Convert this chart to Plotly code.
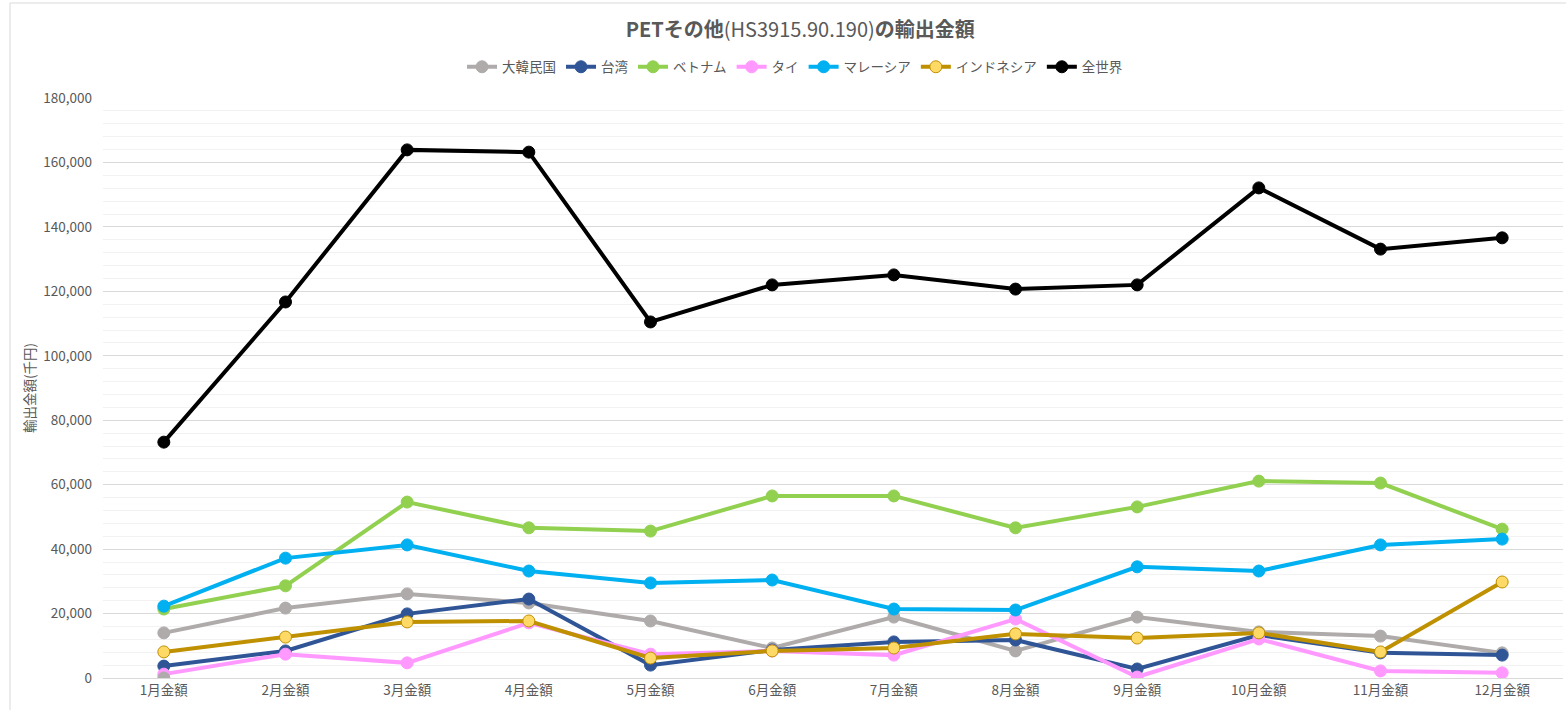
import plotly.graph_objects as go

months = ["1月金額", "2月金額", "3月金額", "4月金額", "5月金額", "6月金額",
          "7月金額", "8月金額", "9月金額", "10月金額", "11月金額", "12月金額"]

korea = [14000, 21700, 26100, 23300, 17700, 9300, 18900, 8400, 18900, 14300, 13000, 7800]
taiwan = [3700, 8400, 19900, 24500, 4000, 8700, 11200, 11800, 2800, 13300, 7800, 7100]
vietnam = [21400, 28600, 54600, 46600, 45600, 56500, 56500, 46600, 53100, 61100, 60500, 46200]
thai = [1200, 7400, 4700, 17100, 7400, 8400, 7100, 18300, 300, 12100, 2200, 1600]
malaysia = [22300, 37200, 41300, 33200, 29500, 30400, 21400, 21100, 34500, 33200, 41300, 43100]
indonesia = [8100, 12700, 17400, 17700, 6200, 8400, 9300, 13700, 12400, 14000, 8100, 29800]
world = [73200, 116700, 163900, 163200, 110500, 122000, 125100, 120700, 122000, 152100, 133100, 136600]
extra_point = [0]

series = [
    ("大韓民国", korea, "#afabab", "#afabab", "#afabab"),
    ("台湾", taiwan, "#2f5597", "#2f5597", "#2f5597"),
    ("ベトナム", vietnam, "#92d050", "#92d050", "#92d050"),
    ("タイ", thai, "#ff99ff", "#ff99ff", "#ff99ff"),
    ("マレーシア", malaysia, "#00b0f0", "#00b0f0", "#00b0f0"),
    ("インドネシア", indonesia, "#bf9000", "#ffd966", "#bf9000"),
    ("全世界", world, "#000000", "#000000", "#000000"),
]

font_family = "Noto Sans CJK JP, Noto Sans, sans-serif"
fig = go.Figure()
for name, vals, lc, mfill, mline in series:
    fig.add_trace(go.Scatter(
        x=months, y=vals, name=name, mode="lines+markers",
        line=dict(color=lc, width=4),
        marker=dict(size=12, color=mfill, line=dict(color=mline, width=1)),
    ))

fig.add_trace(go.Scatter(
    x=months[:1], y=extra_point, mode="markers", showlegend=False,
    marker=dict(size=12, color="#afabab", line=dict(color="#afabab", width=1)),
    hoverinfo="skip",
))

fig.update_layout(
    width=1566, height=710,
    margin=dict(l=103, r=3, t=98, b=32),
    paper_bgcolor="white", plot_bgcolor="white",
    font=dict(family=font_family, color="#595959", size=13),
    title=dict(
        text="<b>PETその他</b>(HS3915.90.190)<b>の輸出金額</b>",
        x=0.511, xanchor="center", y=1 - 30 / 710, yanchor="middle",
        font=dict(size=20, color="#595959", family=font_family),
    ),
    legend=dict(
        orientation="h", x=(462 - 103) / 1460, xanchor="left", y=1.0 + (98 - 67) / 580, yanchor="middle",
        font=dict(size=13.5, color="#595959"), itemwidth=30, tracegroupgap=0,
        bgcolor="rgba(0,0,0,0)",
    ),
    showlegend=True,
)

fig.update_xaxes(
    type="category", range=[-0.5, 11.5],
    showgrid=False, showline=True, linecolor="#d9d9d9", linewidth=1,
    ticks="", tickfont=dict(size=13.5, color="#595959"),
)
fig.update_yaxes(
    range=[0, 180000], dtick=20000, tickformat=",d",
    showgrid=True, gridcolor="#d9d9d9", gridwidth=1,
    minor=dict(dtick=4000, showgrid=True, gridcolor="#f2f2f2", gridwidth=1),
    zeroline=False, showline=False, ticks="",
    tickfont=dict(size=13.5, color="#595959"),
    ticklabelstandoff=10,
    title=dict(text="輸出金額(千円)", font=dict(size=13.5, color="#595959"), standoff=4),
)

fig.add_shape(
    type="rect", xref="paper", yref="paper",
    x0=(10 - 103) / 1460, x1=1.2, y0=-0.2, y1=(678 - 3) / 580,
    line=dict(color="#d9d9d9", width=1), fillcolor="rgba(0,0,0,0)", layer="below",
)

fig.write_html("out.html", post_script="document.body.style.margin='0';",
               config={"displayModeBar": False})
